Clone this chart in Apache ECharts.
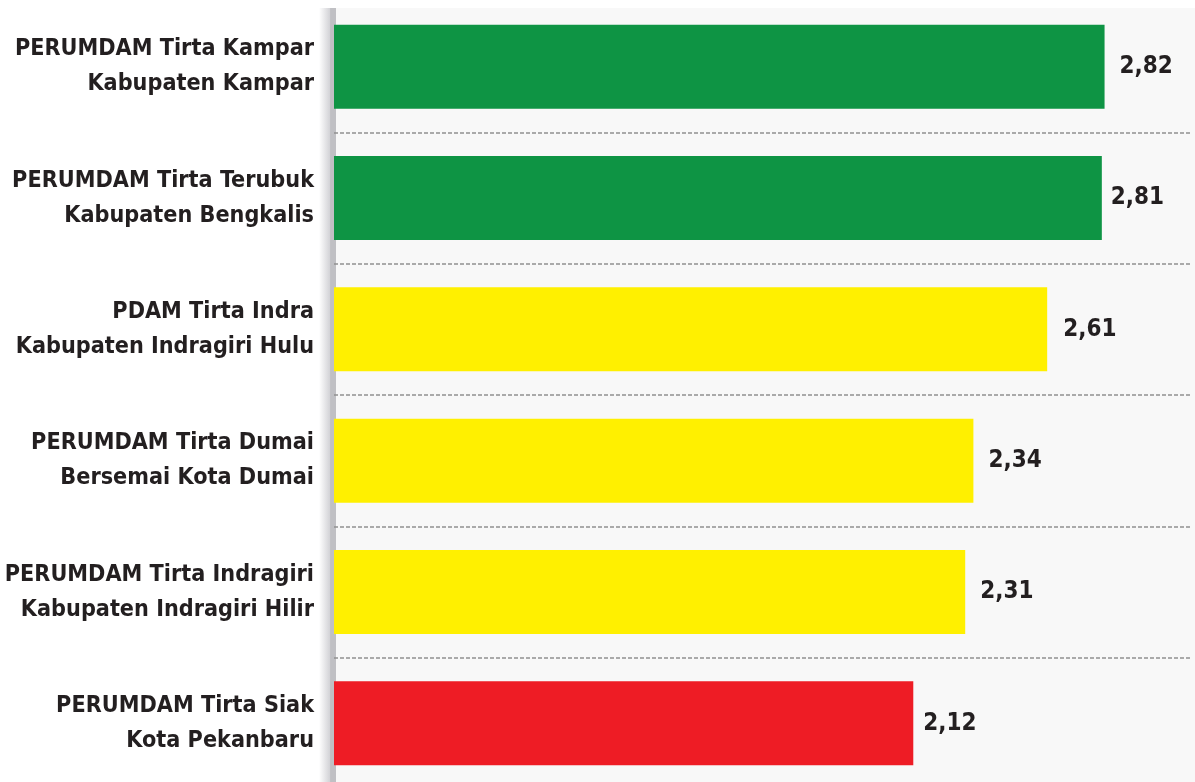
<!DOCTYPE html>
<html><head><meta charset="utf-8">
<script src="https://cdn.jsdelivr.net/npm/echarts@6/dist/echarts.min.js"></script>
<style>html,body{margin:0;padding:0;background:#fff}#c{width:1195px;height:782px}</style>
</head><body><div id="c"></div>
<script>
var categories = [
  'PERUMDAM Tirta Kampar\nKabupaten Kampar',
  'PERUMDAM Tirta Terubuk\nKabupaten Bengkalis',
  'PDAM Tirta Indra\nKabupaten Indragiri Hulu',
  'PERUMDAM Tirta Dumai\nBersemai Kota Dumai',
  'PERUMDAM Tirta Indragiri\nKabupaten Indragiri Hilir',
  'PERUMDAM Tirta Siak\nKota Pekanbaru'
];
var values = [2.82, 2.81, 2.61, 2.34, 2.31, 2.12];
var barColors = ['#0e9444', '#0e9444', '#fff000', '#fff000', '#fff000', '#ee1c25'];
var labelGaps = [15, 9, 16, 15, 15, 10];
var FONT = '"Liberation Sans Narrow", "DejaVu Sans Condensed", Roboto, sans-serif';

var chart = echarts.init(document.getElementById('c'), null, {renderer: 'canvas'});
var data = values.map(function (v, i) {
  return {
    value: v,
    itemStyle: {color: barColors[i]},
    label: {distance: labelGaps[i]}
  };
});
chart.setOption({
  animation: false,
  graphic: [
    {type: 'rect', z: -10, shape: {x: 334, y: 8, width: 861, height: 774}, style: {fill: '#f8f8f8'}},
    {type: 'rect', z: -9, shape: {x: 319, y: 8, width: 17, height: 774},
      style: {fill: new echarts.graphic.LinearGradient(0, 0, 1, 0, [
        {offset: 0, color: '#ffffff'},
        {offset: 0.65, color: '#d2d2d6'},
        {offset: 0.68, color: '#c0c0c4'},
        {offset: 1, color: '#c0c0c4'}
      ])}}
  ],
  grid: {left: 334, right: 3, top: 1, height: 788, containLabel: false, outerBoundsMode: 'none'},
  xAxis: {
    type: 'value', min: 0, max: 3.14, show: false
  },
  yAxis: {
    type: 'category', inverse: true, data: categories,
    axisLine: {show: false}, axisTick: {show: false},
    axisLabel: {
      margin: 20, fontFamily: FONT, fontWeight: 'bold', fontSize: 23.2,
      color: '#231f20', lineHeight: 35, align: 'right', padding: [6, 0, 0, 0]
    },
    splitLine: {
      show: true,
      interval: function (i) { return i > 0 && i < 6; },
      lineStyle: {color: '#909090', width: 1.5, type: [4, 2]}
    }
  },
  series: [{
    type: 'bar', data: data, barWidth: 84,
    label: {
      show: true, position: 'right', fontFamily: FONT, fontWeight: 'bold',
      fontSize: 24, color: '#231f20',
      formatter: function (p) { return p.value.toFixed(2).replace('.', ','); }
    }
  }]
});
</script></body></html>
